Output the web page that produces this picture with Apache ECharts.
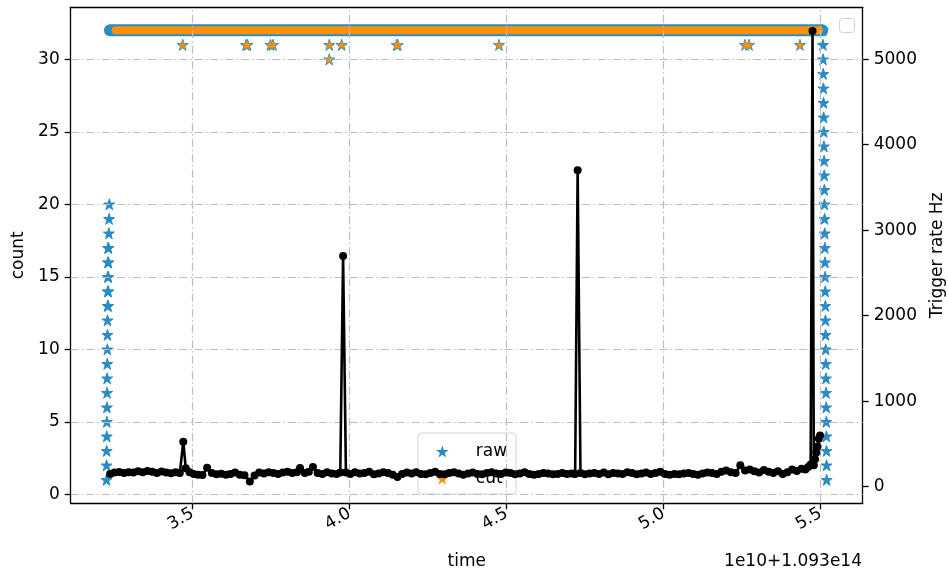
<!DOCTYPE html>
<html>
<head>
<meta charset="utf-8">
<script src="https://cdn.jsdelivr.net/npm/echarts@6/dist/echarts.min.js"></script>
<style>html,body{margin:0;padding:0;background:#fff;}#chart{width:948px;height:572px;}</style>
</head>
<body>
<div id="chart"></div>
<script>
// ---- data (time in units of 1e10, offset 1.093e14) ----
const xTicks = [3.5, 4.0, 4.5, 5.0, 5.5];
const countTicks = [0, 5, 10, 15, 20, 25, 30];
const rateTicks = [0, 1000, 2000, 3000, 4000, 5000];

const rawLeftTimes  = [3.2255,3.2258,3.2261,3.2264,3.2266,3.2270,3.2273,3.2276,3.2279,3.2282,3.2285,3.2288,3.2292,3.2308,3.2295,3.2311,3.2298,3.2314,3.2301,3.2317,3.2304,3.2320,3.2330,3.2338,3.2345];
const rawLeftCounts = [1,2,3,4,5,6,7,8,9,10,11,12,13,13,14,14,15,15,16,16,17,17,18,19,20];

const rawRightTimes  = [5.5191,5.5188,5.5186,5.5182,5.5178,5.5175,5.5170,5.5168,5.5163,5.5160,5.5155,5.5152,5.5149,5.5144,5.5140,5.5137,5.5133,5.5128,5.5124,5.5121,5.5116,5.5112,5.5108,5.5103,5.5099,5.5095,5.5090,5.5086,5.5081,5.5077,5.5072,5.5066];
const rawRightCounts = [1,2,3,4,5,6,7,8,9,10,11,12,13,14,15,16,17,18,19,20,21,22,23,24,25,26,27,28,29,30,31,32];

const rawRowTimes = [3.2365, 5.5050];
const rawRowCounts = [32, 32];
const cutRowTimes = [3.2550, 5.4940];
const cutRowCounts = [32, 32];

const cutTimes  = [3.4682,3.6697,3.6745,3.7478,3.7557,3.9350,3.9350,3.9745,4.1497,4.1530,4.4755,5.2590,5.2717,5.4340];
const cutCounts = [31,31,31,31,31,31,30,31,31,31,31,31,31,31];

const rateTimes = [3.237,3.251,3.266,3.281,3.296,3.311,3.326,3.341,3.356,3.371,3.386,3.401,3.416,3.431,3.446,3.459,3.470,3.478,3.490,3.503,3.517,3.531,3.546,3.561,3.576,3.591,3.606,3.620,3.635,3.650,3.665,3.682,3.697,3.712,3.727,3.742,3.757,3.772,3.787,3.802,3.817,3.832,3.842,3.857,3.870,3.883,3.898,3.913,3.928,3.943,3.958,3.970,3.979,3.988,4.002,4.017,4.032,4.047,4.062,4.077,4.092,4.107,4.122,4.137,4.152,4.167,4.182,4.197,4.212,4.227,4.242,4.257,4.272,4.287,4.302,4.317,4.332,4.347,4.362,4.377,4.392,4.407,4.422,4.437,4.452,4.467,4.482,4.497,4.512,4.527,4.542,4.557,4.572,4.587,4.602,4.617,4.632,4.647,4.662,4.677,4.692,4.707,4.718,4.726,4.735,4.749,4.764,4.779,4.794,4.809,4.824,4.839,4.854,4.869,4.884,4.899,4.914,4.929,4.944,4.959,4.974,4.989,5.004,5.019,5.034,5.049,5.064,5.079,5.094,5.109,5.124,5.139,5.154,5.169,5.184,5.199,5.214,5.229,5.244,5.259,5.274,5.289,5.304,5.319,5.334,5.349,5.364,5.379,5.394,5.409,5.424,5.439,5.451,5.460,5.468,5.474,5.478,5.482,5.486,5.490,5.494,5.498];
const rateValues = [150,165,172,160,170,166,180,168,185,174,160,178,165,156,170,160,526,215,168,148,140,136,222,160,145,152,140,150,165,140,135,62,130,165,155,170,160,150,165,175,160,170,220,160,175,230,160,150,170,155,150,165,2698,165,150,170,155,160,175,145,155,170,160,140,115,150,165,155,170,150,145,160,175,150,145,160,170,155,140,155,165,150,145,160,170,155,150,165,160,145,155,170,150,140,150,160,155,145,150,160,150,155,150,3700,160,145,155,160,150,165,145,160,155,150,170,160,145,155,165,150,160,175,150,140,150,145,155,160,150,140,155,165,160,150,175,190,170,160,250,190,200,180,165,195,175,160,180,150,170,200,185,210,200,230,260,5330,250,320,400,470,560,600];

// ---- styling ----
const BLUE = '#2a8cc4';
const ORANGE = '#ff910a';
const FONT = 'DejaVu Sans';
const STAR = 'path://M100 0 L122.45 69.1 L195.11 69.1 L136.33 111.8 L158.78 180.9 L100 138.2 L41.22 180.9 L63.67 111.8 L4.89 69.1 L77.55 69.1 Z';

const zip = (a, b) => a.map((v, i) => [v, b[i]]);
const rawPoints = zip(rawLeftTimes, rawLeftCounts).concat(zip(cutTimes, cutCounts), zip(rawRightTimes, rawRightCounts));

const X_MIN = 3.1115, X_MAX = 5.6338;
const gridLine = { color: '#bdbdbd', width: 1.2, type: [8, 3, 1.5, 3] };

const chart = echarts.init(document.getElementById('chart'), null, { renderer: 'canvas' });
chart.setOption({
  animation: false,
  backgroundColor: '#ffffff',
  textStyle: { fontFamily: FONT },
  grid: { left: 70.7, right: 85.3, top: 7.3, bottom: 68.7, containLabel: false, outerBoundsMode: 'none' },
  legend: {
    data: [{ name: 'raw', icon: STAR }, { name: 'cut', icon: STAR }],
    orient: 'vertical',
    left: 418, top: 433,
    padding: [10, 9, 7, 18],
    itemWidth: 33, itemHeight: 12, itemGap: 10,
    backgroundColor: 'rgba(255,255,255,0.8)',
    borderColor: '#d6d6d6', borderWidth: 1, borderRadius: 4,
    textStyle: { fontSize: 17, color: '#000', fontFamily: FONT, padding: [0, 0, 0, 12] },
    selectedMode: false,
    z: 4
  },
  xAxis: [{
    type: 'value', min: X_MIN, max: X_MAX, position: 'bottom',
    name: 'time', nameLocation: 'middle', nameGap: 50,
    nameTextStyle: { fontSize: 17, color: '#000', fontFamily: FONT },
    axisLine: { show: true, onZero: false, lineStyle: { color: '#000', width: 1.3 } },
    axisTick: { show: true, customValues: xTicks, length: 6, lineStyle: { color: '#000', width: 1.3 } },
    axisLabel: { customValues: xTicks, rotate: 30, margin: 9, fontSize: 17, color: '#000', fontFamily: FONT,
      formatter: v => v.toFixed(1) },
    splitLine: { show: false }
  }, {
    type: 'value', min: X_MIN, max: X_MAX, position: 'top',
    axisLine: { show: true, onZero: false, lineStyle: { color: '#000', width: 1.3 } },
    axisTick: { show: false }, axisLabel: { show: false }, splitLine: { show: false }
  }],
  yAxis: [{
    type: 'value', min: -0.62, max: 33.59, position: 'left',
    name: 'count', nameLocation: 'middle', nameGap: 44, nameRotate: 90,
    nameTextStyle: { fontSize: 17, color: '#000', fontFamily: FONT },
    axisLine: { show: true, onZero: false, lineStyle: { color: '#000', width: 1.3 } },
    axisTick: { show: true, customValues: countTicks, length: 6, lineStyle: { color: '#000', width: 1.3 } },
    axisLabel: { customValues: countTicks, margin: 11, fontSize: 17, color: '#000', fontFamily: FONT,
      formatter: v => String(v) },
    splitLine: { show: false }
  }, {
    type: 'value', min: -194, max: 5607, position: 'right',
    name: 'Trigger rate Hz', nameLocation: 'middle', nameGap: 66, nameRotate: 90,
    nameTextStyle: { fontSize: 17, color: '#000', fontFamily: FONT },
    axisLine: { show: true, onZero: false, lineStyle: { color: '#000', width: 1.3 } },
    axisTick: { show: true, customValues: rateTicks, length: 6, lineStyle: { color: '#000', width: 1.3 } },
    axisLabel: { customValues: rateTicks, margin: 11, fontSize: 17, color: '#000', fontFamily: FONT,
      formatter: v => String(v) },
    splitLine: { show: false }
  }],
  graphic: [
    { type: 'text', right: 86, top: 553, style: { text: '1e10+1.093e14', font: '17px "DejaVu Sans"', fill: '#000' } },
    { type: 'rect', left: 839, top: 18, shape: { width: 15, height: 14, r: 3 }, style: { fill: '#fff', stroke: '#d3d3d3', lineWidth: 1 } }
  ],
  series: [
    {
      name: 'grid', type: 'line', data: [], xAxisIndex: 0, yAxisIndex: 0, z: 1, silent: true,
      markLine: {
        silent: true, symbol: ['none', 'none'], label: { show: false }, animation: false,
        lineStyle: gridLine,
        data: xTicks.map(v => ({ xAxis: v })).concat(countTicks.map(v => ({ yAxis: v })))
      }
    },
    {
      name: 'raw', type: 'line', data: zip(rawRowTimes, rawRowCounts), xAxisIndex: 0, yAxisIndex: 0, z: 2,
      showSymbol: false, symbol: 'none',
      lineStyle: { color: BLUE, width: 12, cap: 'round' }, itemStyle: { color: BLUE }
    },
    {
      name: 'raw', type: 'scatter', data: rawPoints, xAxisIndex: 0, yAxisIndex: 0, z: 2,
      symbol: STAR, symbolSize: 11,
      itemStyle: { color: BLUE, borderColor: BLUE, borderWidth: 1, opacity: 1 }
    },
    {
      name: 'cut', type: 'line', data: zip(cutRowTimes, cutRowCounts), xAxisIndex: 0, yAxisIndex: 0, z: 3,
      showSymbol: false, symbol: 'none',
      lineStyle: { color: ORANGE, width: 8, cap: 'round' }, itemStyle: { color: ORANGE }
    },
    {
      name: 'cut', type: 'scatter', data: zip(cutTimes, cutCounts), xAxisIndex: 0, yAxisIndex: 0, z: 3,
      symbol: STAR, symbolSize: 8,
      itemStyle: { color: ORANGE, borderColor: ORANGE, borderWidth: 0.5, opacity: 1 }
    },
    {
      name: 'rate', type: 'line', data: zip(rateTimes, rateValues), xAxisIndex: 0, yAxisIndex: 1, z: 6,
      symbol: 'circle', symbolSize: 8, showSymbol: true, showAllSymbol: true,
      lineStyle: { color: '#000', width: 2.6 }, itemStyle: { color: '#000', borderWidth: 0 }
    }
  ]
});
</script>
</body>
</html>
